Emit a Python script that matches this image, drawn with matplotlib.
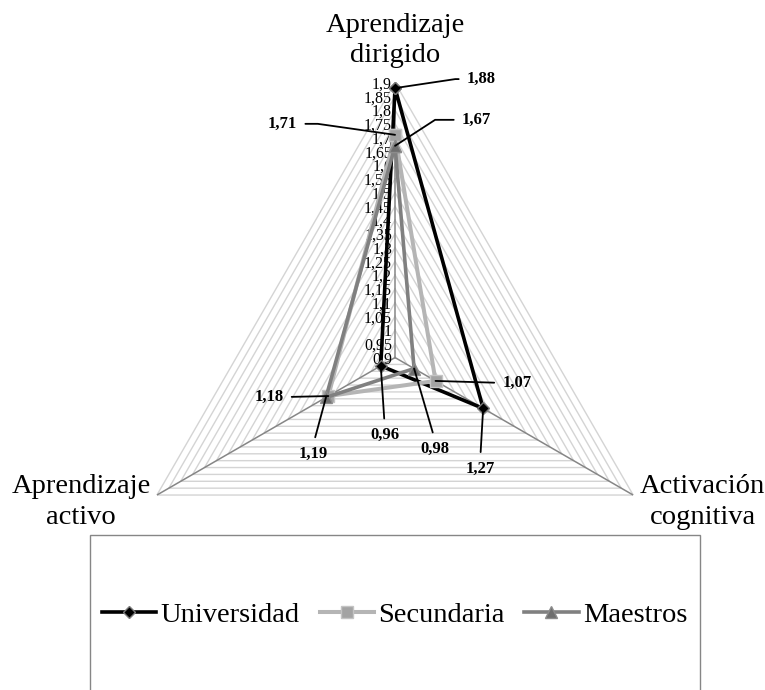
import numpy as np
import matplotlib.pyplot as plt
from matplotlib.patches import Rectangle

plt.rcParams['font.family'] = ['Liberation Serif', 'DejaVu Serif']

# data
categories = ["Aprendizaje\ndirigido", "Activación\ncognitiva", "Aprendizaje\nactivo"]
series_names = ["Universidad", "Secundaria", "Maestros"]
universidad = [1.88, 1.27, 0.96]
secundaria = [1.71, 1.07, 1.18]
maestros = [1.67, 0.98, 1.19]
r_ticks = [0.9, 0.95, 1.0, 1.05, 1.1, 1.15, 1.2, 1.25, 1.3, 1.35, 1.4,
           1.45, 1.5, 1.55, 1.6, 1.65, 1.7, 1.75, 1.8, 1.85, 1.9]

series = [universidad, secundaria, maestros]
styles = [
  dict(color="#000000", lw=2.6, marker="D", ms=6.5, mfc="#000000", mec="#7a7a7a", mew=1.0),
  dict(color="#b5b5b5", lw=2.9, marker="s", ms=8.5, mfc="#a3a3a3", mec="#c4c4c4", mew=1.0),
  dict(color="#808080", lw=2.6, marker="^", ms=8.5, mfc="#6e6e6e", mec="#8c8c8c", mew=1.0),
]

def fmt(v):
  return f"{v:g}".replace(".", ",")

angles = [0, 2 * np.pi / 3, 4 * np.pi / 3]
closed_angles = angles + angles[:1]

fig = plt.figure(figsize=(7.65, 6.9), dpi=100)
ax = fig.add_axes([0.1569, 0.0833, 0.719, 0.797], projection="polar")
ax.set_theta_zero_location("N")
ax.set_theta_direction(-1)
ax.set_rlim(r_ticks[0], r_ticks[-1])
ax.set_xticks([])
ax.set_yticks([])
ax.grid(False)
ax.spines["polar"].set_visible(False)
ax.patch.set_visible(False)

# triangular gridlines and spokes
for r in r_ticks[1:]:
  ax.plot(closed_angles, [r] * 4, color="#d4d4d4", lw=1.0, zorder=1)
for a in angles:
  ax.plot([a, a], [r_ticks[0], r_ticks[-1]], color="#868686", lw=1.1, zorder=2)

# radial tick labels along the top spoke
for t in r_ticks:
  ax.annotate(fmt(t), xy=(0, t), xytext=(-3, -2), textcoords="offset pixels",
              ha="right", va="center", fontsize=11.5, color="#000000", zorder=3)

lines = []
for vals, name, st in zip(series, series_names, styles):
  ln, = ax.plot(closed_angles, vals + vals[:1], label=name, zorder=4, clip_on=False, **st)
  lines.append(ln)

# data labels with leader lines: (series, category, offset, ha, va, relpos, connection)
label_layout = [
  (0, 0, (72, 9), "left", "center", (0, 0.5), "angle,angleA=0,angleB=8.5,rad=0"),
  (1, 0, (-98, 11), "right", "center", (1, 0.5), "angle,angleA=0,angleB=-8.1,rad=0"),
  (2, 0, (67, 26), "left", "center", (0, 0.5), "angle,angleA=0,angleB=33,rad=0"),
  (1, 1, (67, -2), "left", "center", (0, 0.5), "arc3"),
  (1, 2, (-45, -1), "right", "center", (1, 0.5), "arc3"),
  (2, 2, (-13, -48), "center", "top", (0.5, 1), "arc3"),
  (0, 2, (4, -61), "center", "top", (0.5, 1), "arc3"),
  (2, 1, (21, -72), "center", "top", (0.5, 1), "arc3"),
  (0, 1, (-3, -52), "center", "top", (0.5, 1), "arc3"),
]
for si, ci, off, ha, va, rp, conn in label_layout:
  v = series[si][ci]
  ax.annotate(f"{v:.2f}".replace(".", ","), xy=(angles[ci], v), xytext=off,
              textcoords="offset pixels", ha=ha, va=va, fontsize=12,
              fontweight="bold", zorder=6,
              arrowprops=dict(arrowstyle="-", color="#000000", lw=1.3,
                              shrinkA=4, shrinkB=0, relpos=rp,
                              connectionstyle=conn))

# category labels
cat_layout = [((0, 42), "center"), ((7, -7), "left"), ((-6, -7), "right")]
for a, cat, (off, ha) in zip(angles, categories, cat_layout):
  ax.annotate(cat, xy=(a, r_ticks[-1]), xytext=off, textcoords="offset pixels",
              ha=ha, va="center", multialignment="center", fontsize=20.5,
              linespacing=1.3)

# legend box (runs off the bottom like the reference)
fig.add_artist(Rectangle((0.1176, -0.1), 0.797, 0.3246, transform=fig.transFigure,
                         fill=False, ec="#868686", lw=1.0))
fig.legend(lines, series_names, loc="center", bbox_to_anchor=(0.516, 0.109),
           ncol=3, frameon=False, fontsize=20.5, handlelength=1.9,
           handletextpad=0.15, columnspacing=0.7)

fig.savefig("out.png", dpi=100)
